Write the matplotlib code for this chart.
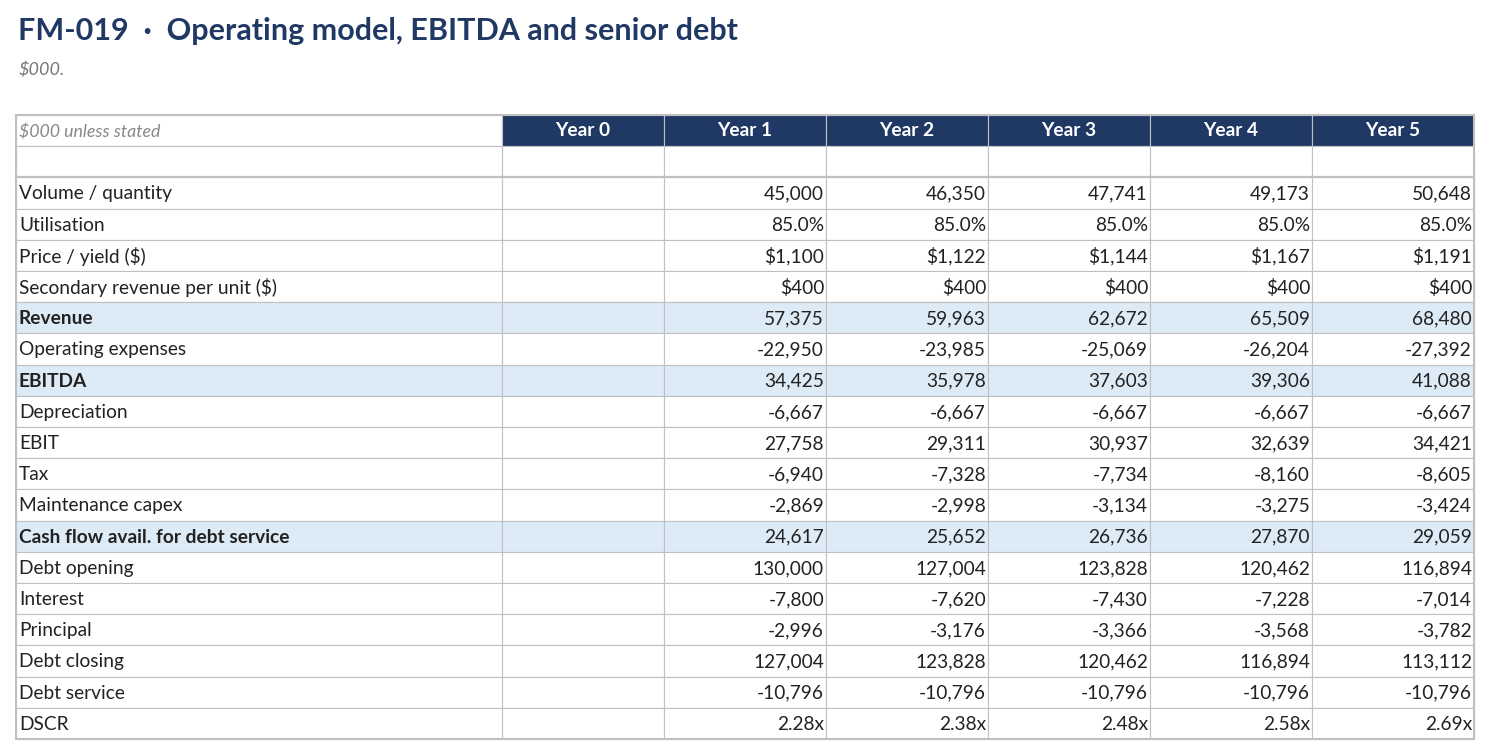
import matplotlib.pyplot as plt
from matplotlib.patches import Rectangle

# 数据
years = ['Year 0', 'Year 1', 'Year 2', 'Year 3', 'Year 4', 'Year 5']
row_labels = [
    'Volume / quantity', 'Utilisation', 'Price / yield ($)',
    'Secondary revenue per unit ($)', 'Revenue', 'Operating expenses',
    'EBITDA', 'Depreciation', 'EBIT', 'Tax', 'Maintenance capex',
    'Cash flow avail. for debt service', 'Debt opening', 'Interest',
    'Principal', 'Debt closing', 'Debt service', 'DSCR',
]
bold_rows = ['Revenue', 'EBITDA', 'Cash flow avail. for debt service']

volume = [45000, 46350, 47741, 49173, 50648]
utilisation = [85.0, 85.0, 85.0, 85.0, 85.0]
price = [1100, 1122, 1144, 1167, 1191]
secondary_rev = [400, 400, 400, 400, 400]
revenue = [57375, 59963, 62672, 65509, 68480]
opex = [-22950, -23985, -25069, -26204, -27392]
ebitda = [34425, 35978, 37603, 39306, 41088]
depreciation = [-6667, -6667, -6667, -6667, -6667]
ebit = [27758, 29311, 30937, 32639, 34421]
tax = [-6940, -7328, -7734, -8160, -8605]
maint_capex = [-2869, -2998, -3134, -3275, -3424]
cfads = [24617, 25652, 26736, 27870, 29059]
debt_opening = [130000, 127004, 123828, 120462, 116894]
interest = [-7800, -7620, -7430, -7228, -7014]
principal = [-2996, -3176, -3366, -3568, -3782]
debt_closing = [127004, 123828, 120462, 116894, 113112]
debt_service = [-10796, -10796, -10796, -10796, -10796]
dscr = [2.28, 2.38, 2.48, 2.58, 2.69]


def num(v):
    return f'{v:,.0f}'


def dollars(v):
    return f'${v:,.0f}'


def pct(v):
    return f'{v:.1f}%'


def mult(v):
    return f'{v:.2f}x'


series = [
    (volume, num), (utilisation, pct), (price, dollars), (secondary_rev, dollars),
    (revenue, num), (opex, num), (ebitda, num), (depreciation, num), (ebit, num),
    (tax, num), (maint_capex, num), (cfads, num), (debt_opening, num),
    (interest, num), (principal, num), (debt_closing, num), (debt_service, num),
    (dscr, mult),
]

NAVY = '#1f3864'
GRID = '#c0c0c0'
HILITE = '#ddebf7'
TEXT = '#222222'
FS = 13.8

plt.rcParams['font.family'] = ['Lato', 'DejaVu Sans']

W, H = 1491, 756
fig = plt.figure(figsize=(W / 100, H / 100), dpi=100)
ax = fig.add_axes([0, 0, 1, 1])
ax.set_xlim(0, W)
ax.set_ylim(H, 0)
ax.axis('off')

# 标题
ax.text(18, 31, 'FM-019  \u00b7  Operating model, EBITDA and senior debt',
        fontsize=22, fontweight='bold', color=NAVY, va='center', ha='left')
ax.text(19, 70, '$000.', fontsize=13, style='italic', color='#777777',
        va='center', ha='left')

# 表格布局
left = 16
label_w = 486
col_w = 162
top = 115
row_h = 31.2
col_x = [left + label_w + i * col_w for i in range(len(years))]
right = col_x[-1] + col_w

# 表头
ax.add_patch(Rectangle((left, top), label_w, row_h, facecolor='white',
                       edgecolor=GRID, lw=0.8))
ax.text(left + 3, top + row_h / 2 + 1, '$000 unless stated', fontsize=12.8,
        style='italic', color='#888888', va='center', ha='left')
for x, yr in zip(col_x, years):
    ax.add_patch(Rectangle((x, top), col_w, row_h, facecolor=NAVY,
                           edgecolor=GRID, lw=0.8))
    ax.text(x + col_w / 2, top + row_h / 2, yr, fontsize=FS, fontweight='bold',
            color='white', va='center', ha='center')

# 空行
y = top + row_h
ax.add_patch(Rectangle((left, y), label_w, row_h, facecolor='white',
                       edgecolor=GRID, lw=0.8))
for x in col_x:
    ax.add_patch(Rectangle((x, y), col_w, row_h, facecolor='white',
                           edgecolor=GRID, lw=0.8))
ax.plot([left, right], [y + row_h, y + row_h], color=GRID, lw=1.6)

# 数据行
for i, (label, (vals, fmt)) in enumerate(zip(row_labels, series)):
    y = top + (i + 2) * row_h
    bold = label in bold_rows
    fc = HILITE if bold else 'white'
    weight = 'bold' if bold else 'normal'
    ax.add_patch(Rectangle((left, y), label_w, row_h, facecolor=fc,
                           edgecolor=GRID, lw=0.8))
    ax.text(left + 3, y + row_h / 2 + 1, label, fontsize=FS, fontweight=weight,
            color=TEXT, va='center', ha='left')
    # Year 0 为空
    ax.add_patch(Rectangle((col_x[0], y), col_w, row_h, facecolor=fc,
                           edgecolor=GRID, lw=0.8))
    for x, v in zip(col_x[1:], vals):
        ax.add_patch(Rectangle((x, y), col_w, row_h, facecolor=fc,
                               edgecolor=GRID, lw=0.8))
        ax.text(x + col_w - 2, y + row_h / 2 + 1, fmt(v), fontsize=FS,
                color=TEXT, va='center', ha='right')

bottom = top + (len(row_labels) + 2) * row_h
ax.add_patch(Rectangle((left, top), right - left, bottom - top, fill=False,
                       edgecolor=GRID, lw=1.5))

fig.savefig('out.png', dpi=100)
